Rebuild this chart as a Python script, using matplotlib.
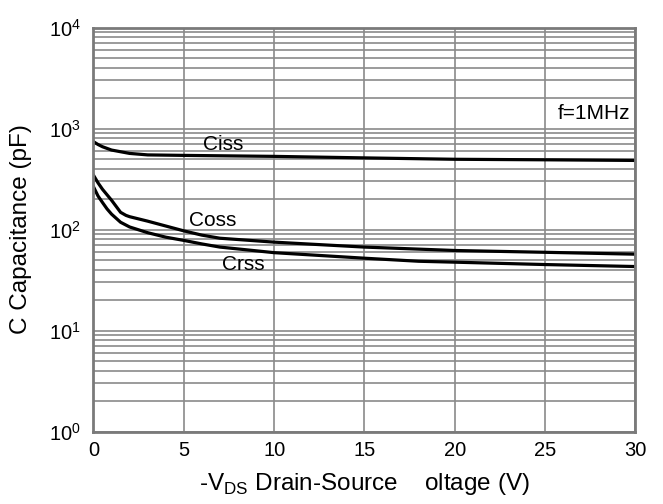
import matplotlib.pyplot as plt
from matplotlib.ticker import LogLocator, MultipleLocator, NullFormatter

plt.rcParams['font.family'] = ['Liberation Sans', 'DejaVu Sans']
plt.rcParams['mathtext.fontset'] = 'custom'
plt.rcParams['mathtext.rm'] = 'Liberation Sans'

# Capacitance vs -VDS (pF)
v_ciss = [0, 0.25, 0.5, 1, 2, 3, 5, 10, 15, 20, 25, 30]
ciss = [740, 695, 660, 612, 567, 548, 542, 530, 512, 496, 490, 483]

v_coss = [0, 0.25, 0.5, 1, 1.5, 1.8, 2, 3, 5, 6, 7, 10, 15, 20, 25, 30]
coss = [345, 290, 250, 195, 148, 138, 134, 121, 97, 88, 82, 75, 67, 62, 59.5, 57]

v_crss = [0, 0.25, 0.5, 0.75, 1, 1.5, 2, 3, 4, 5, 6, 7, 10, 15, 18, 20, 25, 30]
crss = [265, 215, 185, 160, 142, 118, 106, 93, 84, 78, 72, 67, 59, 52, 48.5, 47.5, 45, 43]

fig = plt.figure(figsize=(6.63, 5.04), dpi=100)
ax = fig.add_axes([0.141, 0.1438, 0.8175, 0.8016])

ax.plot(v_ciss, ciss, color='black', lw=2.3)
ax.plot(v_coss, coss, color='black', lw=2.3)
ax.plot(v_crss, crss, color='black', lw=2.3)

ax.set_yscale('log')
ax.set_xlim(0, 30)
ax.set_ylim(1, 1e4)
ax.xaxis.set_major_locator(MultipleLocator(5))
ax.yaxis.set_major_locator(LogLocator(base=10, numticks=10))
ax.yaxis.set_minor_locator(LogLocator(base=10, subs=range(2, 10), numticks=10))
ax.yaxis.set_minor_formatter(NullFormatter())

ax.grid(True, which='both', color='#8a8a8a', lw=1.2)
ax.set_axisbelow(True)
for s in ax.spines.values():
    s.set_color('#7a7a7a')
    s.set_linewidth(2)
ax.tick_params(which='both', length=0, labelsize=14.5)
ax.tick_params(axis='x', pad=7)
ax.tick_params(axis='y', pad=9)

ax.text(7.2, 700, 'Ciss', fontsize=15, ha='center', va='center')
ax.text(6.6, 124, 'Coss', fontsize=15, ha='center', va='center')
ax.text(8.3, 45, 'Crss', fontsize=15, ha='center', va='center')
ax.text(29.7, 1410, 'f=1MHz', fontsize=15, ha='right', va='center')

ax.set_xlabel('-V$_\\mathregular{DS}$ Drain-Source    oltage (V)', fontsize=17.5, labelpad=8)
ax.set_ylabel('C Capacitance (pF)', fontsize=17.5, labelpad=12)

plt.savefig('out.png', dpi=100)
